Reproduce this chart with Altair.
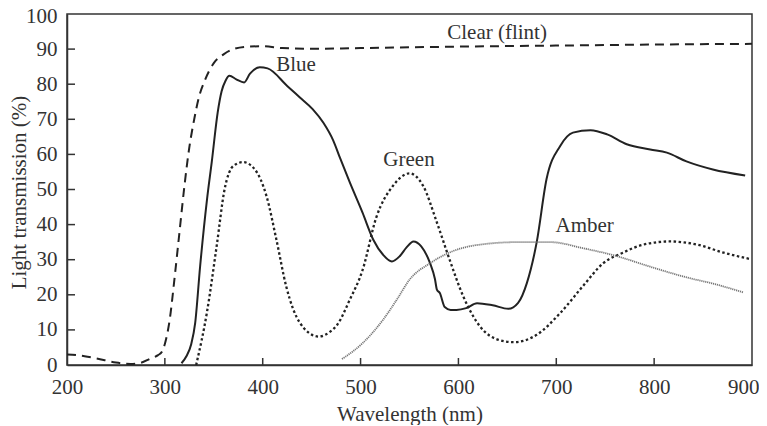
import altair as alt
import pandas as pd

# ---- data ----
clear_nm = [200, 210, 230, 250, 265, 275, 285, 293, 297, 300, 305, 310, 315, 320, 325, 330, 335, 340,
            350, 360, 370, 385, 400, 420, 450, 500, 600, 700, 800, 900]
clear_val = [3, 2.8, 1.9, 0.7, 0.3, 0.6, 1.8, 2.8, 3.8, 6, 13, 25, 38, 51, 62, 70, 76.5, 80.5,
             86, 88.5, 90, 90.7, 90.8, 90.3, 90.1, 90.3, 90.7, 91, 91.3, 91.5]

blue_nm = [317, 322, 327, 331, 336, 343, 348, 354, 358, 362, 366, 373, 381, 387, 397, 405, 425, 438,
           451, 462, 472, 479, 489, 502, 513, 523, 532, 540, 547, 554, 562, 571, 576, 578, 581, 586,
           592, 598, 608, 619, 635, 651, 661, 670, 680, 690, 704, 717, 735, 752, 772, 796, 813, 833,
           860, 893]
blue_val = [0.5, 2.5, 6, 12, 28, 47, 58, 72, 78, 81, 82.4, 81.4, 80.5, 83, 84.8, 84.5, 79.5, 76.2,
            72.9, 69, 64, 59, 52, 43.4, 35.7, 31.4, 29.5, 31, 33.5, 35.2, 33.8, 29, 24.5, 21.5, 20.5, 16.5,
            15.7, 15.7, 16.2, 17.6, 17, 16, 17.7, 23.4, 35, 52.9, 62.4, 66.2, 66.9, 65.7, 62.9, 61.4, 60.5, 58,
            55.7, 54]

green_nm = [332, 343, 353, 361, 370, 380, 392, 404, 414, 424, 438, 457, 469, 476, 489, 502, 516, 533,
            550, 564, 578, 591, 605, 622, 642, 657, 680, 704, 727, 748, 768, 789, 816, 844, 871, 898]
green_val = [0, 15, 34, 50, 56.7, 57.8, 55.7, 48, 35.7, 22.4, 12, 8.1, 9.5, 11.4, 18.6, 27, 42, 51,
             54.6, 51, 40.6, 30, 19.5, 11, 7.1, 6.5, 8.6, 14.8, 22.4, 29, 32, 34.3, 35.2, 34.3, 32, 30.2]

amber_nm = [481, 502, 523, 537, 550, 571, 594, 622, 660, 694, 727, 762, 796, 830, 864, 891]
amber_val = [1.7, 6.2, 12.9, 18.6, 24.3, 29, 32.4, 34.3, 35, 35, 33.3, 31, 28, 25.2, 22.9, 20.7]

label_text = ["Clear (flint)", "Blue", "Green", "Amber"]
label_nm = [639.5, 434, 549.5, 729]
label_val = [94.6, 85.5, 58.3, 39.7]

x_ticks = [300, 400, 500, 600, 700, 800]
y_ticks = [10, 20, 30, 40, 50, 60, 70, 80, 90]

FONT = "Liberation Serif"
FS = 21
INK = "#222222"
W, H = 685, 351

xs = alt.Scale(domain=[200, 900], nice=False, zero=False)
ys = alt.Scale(domain=[0, 100], nice=False)

X = alt.X("nm:Q", scale=xs, axis=alt.Axis(
    title="Wavelength (nm)", values=list(range(200, 901, 100)), ticks=False, tickSize=0,
    labelPadding=11, grid=False, labelFlush=False, labelOverlap=False,
    labelAlign={"expr": "datum.value == 900 ? 'right' : 'center'"},
    labelOffset={"expr": "datum.value == 900 ? 7 : 0"},
    titleY=55, titleBaseline="alphabetic"))
Y = alt.Y("val:Q", scale=ys, axis=alt.Axis(
    title="Light transmission (%)", values=list(range(0, 101, 10)), ticks=False, tickSize=0,
    labelPadding=10, grid=False, labelFlush=False, labelOverlap=False,
    labelOffset={"expr": "datum.value == 100 ? 2 : 0"},
    titleX=-42, titleY=178, titleBaseline="alphabetic", titleAngle=270))


def series(nm, val):
    return pd.DataFrame({"nm": nm, "val": val})


clear = alt.Chart(series(clear_nm, clear_val)).mark_line(
    color=INK, strokeWidth=2, strokeDash=[9, 6], interpolate="monotone").encode(x=X, y=Y)
blue = alt.Chart(series(blue_nm, blue_val)).mark_line(
    color=INK, strokeWidth=2, interpolate="monotone").encode(x=X, y=Y)
green = alt.Chart(series(green_nm, green_val)).mark_line(
    color=INK, strokeWidth=2.3, strokeDash=[2.5, 2.5], interpolate="monotone").encode(x=X, y=Y)
amber = alt.Chart(series(amber_nm, amber_val)).mark_line(
    color="#777777", strokeWidth=1.8, strokeDash=[1.2, 0.8], interpolate="monotone").encode(x=X, y=Y)

labels = alt.Chart(pd.DataFrame({"label": label_text, "nm": label_nm, "val": label_val})).mark_text(
    font=FONT, fontSize=FS, color="#333333", baseline="middle", align="center"
).encode(x=X, y=Y, text="label:N")

xt = alt.Chart(pd.DataFrame({"nm": x_ticks})).mark_rule(color="#333333", strokeWidth=1.5).encode(
    x=X, y=alt.value(H), y2=alt.value(H - 7))
yt = alt.Chart(pd.DataFrame({"val": y_ticks})).mark_rule(color="#333333", strokeWidth=1.5).encode(
    y=Y, x=alt.value(0), x2=alt.value(8))

chart = alt.layer(clear, blue, green, amber, labels, xt, yt).properties(
    width=W, height=H,
    autosize=alt.AutoSizeParams(type="none"),
    padding={"left": 59, "top": 6, "right": 7, "bottom": 60},
).configure_view(stroke="#333333", strokeWidth=1.5).configure_axis(
    labelFont=FONT, titleFont=FONT, labelFontSize=FS, titleFontSize=FS,
    labelColor="#333333", titleColor="#333333", titleFontWeight="normal",
    domainColor="#333333", domainWidth=1.5,
)

chart.save("out.html", embed_options={"renderer": "svg", "actions": False})
